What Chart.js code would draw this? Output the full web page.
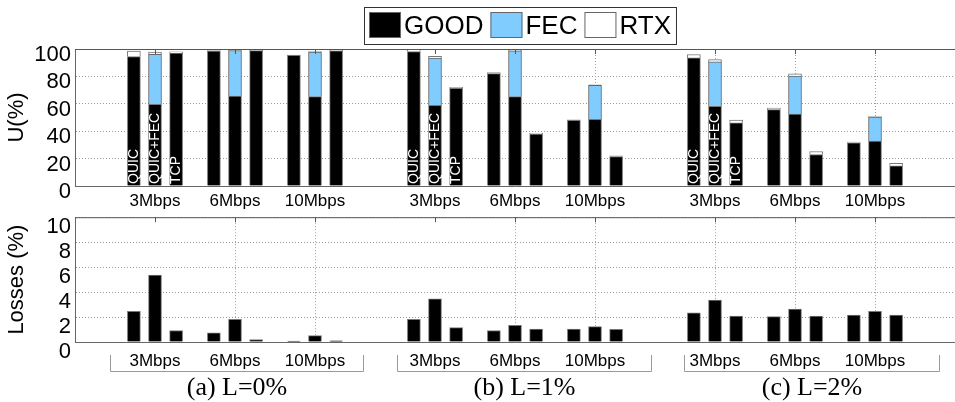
<!DOCTYPE html>
<html>
<head>
<meta charset="utf-8">
<script src="https://cdn.jsdelivr.net/npm/chart.js@4.4.1/dist/chart.umd.min.js"></script>
<style>
  html, body { margin: 0; padding: 0; background: #fff; }
  #wrap { position: relative; width: 955px; height: 402px; overflow: hidden; }
  #uCanvas { position: absolute; left: 0; top: 0; }
  #lossCanvas { position: absolute; left: 0; top: 200px; }
</style>
</head>
<body>
<div id="wrap">
  <canvas id="uCanvas" width="955" height="212"></canvas>
  <canvas id="lossCanvas" width="955" height="202"></canvas>
</div>
<script>
// ---------- DATA ----------
const panels = ['(a) L=0%', '(b) L=1%', '(c) L=2%'];
const rates = ['3Mbps', '6Mbps', '10Mbps'];
const protocols = ['QUIC', 'QUIC+FEC', 'TCP'];
const layers = ['GOOD', 'FEC', 'RTX'];

// link utilisation U(%) - order: (a) 3,6,10 | (b) 3,6,10 | (c) 3,6,10
const goodQuic    = [94.5, 98.5, 95.4, 98.2, 82.0, 48.0, 93.5, 55.7, 31.5];
const goodQuicFec = [59.6, 65.7, 65.2, 58.9, 65.2, 48.6, 58.1, 52.5, 32.7];
const goodTcp     = [97.0, 98.8, 98.7, 71.3, 37.9, 21.5, 46.2, 23.0, 14.7];
const fecQuicFec  = [36.6, 33.2, 32.5, 34.4, 33.5, 24.9, 32.5, 27.8, 17.6];
const rtxQuic     = [4.0, 0.3, 0.2, 1.5, 0.8, 0.3, 2.5, 1.2, 0.5];
const rtxQuicFec  = [1.5, 0.5, 0.4, 1.4, 0.3, 0.3, 1.7, 1.5, 0.3];
const rtxTcp      = [1.0, 0.3, 0.3, 0.8, 0.6, 0.6, 1.9, 2.2, 1.9];

// losses (%)
const lossQuic    = [2.46, 0.74, 0.08, 1.82, 0.92, 1.03, 2.33, 2.03, 2.15];
const lossQuicFec = [5.36, 1.82, 0.51, 3.46, 1.33, 1.23, 3.36, 2.64, 2.46];
const lossTcp     = [0.92, 0.20, 0.10, 1.15, 1.03, 1.02, 2.08, 2.08, 2.15];

// ---------- STYLE ----------
const SANS = '"Liberation Sans", Arial, Helvetica, sans-serif';
const SERIF = '"Liberation Serif", "Times New Roman", serif';
const layerColors = ['#000000', '#80ccff', '#ffffff'];
const GRID = '#9a9a9a';
const AXIS = '#666666';

Chart.defaults.font.family = SANS;
Chart.defaults.color = '#000';

// x position (axis units) of panel g, rate r; bars of one rate sit side by side
const slot = (g, r) => 1 + g * 3.5 + r;
const shift = [-0.264, 0, 0.264];
const tickPos = [];
panels.forEach((p, g) => rates.forEach((r, i) => tickPos.push(slot(g, i))));
const hiddenGrid = [0, 3]; // no dotted line at (a) and (b) 3Mbps in the original

const pts = (values, p) => values.map((v, i) => ({ x: slot(Math.floor(i / 3), i % 3) + shift[p], y: v }));

// ---------- PLUGINS ----------
const frame = {
  id: 'frame',
  afterDraw(chart) {
    const { ctx, chartArea: a, scales: { x } } = chart;
    ctx.save();
    ctx.strokeStyle = '#555';
    ctx.lineWidth = 1;
    ctx.beginPath();
    ctx.moveTo(a.left, a.top + 0.5);
    ctx.lineTo(a.right, a.top + 0.5);
    tickPos.forEach(v => {
      const px = Math.round(x.getPixelForValue(v)) + 0.5;
      ctx.moveTo(px, a.top);
      ctx.lineTo(px, a.top + 5);
    });
    ctx.stroke();
    ctx.restore();
  }
};

const legendBox = {
  id: 'legendBox',
  afterDraw(chart) {
    const { ctx, chartArea: a } = chart;
    ctx.save();
    ctx.font = '26px ' + SANS;
    const sq = 32, gap = 3, sep = 7, pad = 5, top = 7, h = 37;
    const widths = layers.map(t => ctx.measureText(t).width);
    const total = pad * 2 + widths.reduce((s, w) => s + sq + gap + w, 0) + sep * (layers.length - 1);
    let x = Math.round((a.left + a.right) / 2 + 5 - total / 2);
    ctx.strokeStyle = '#333';
    ctx.lineWidth = 1;
    ctx.strokeRect(x + 0.5, top + 0.5, total, h);
    x += pad;
    layers.forEach((t, i) => {
      ctx.fillStyle = layerColors[i];
      ctx.fillRect(x, top + 5, sq, 26);
      ctx.strokeStyle = AXIS;
      ctx.strokeRect(x + 0.5, top + 5.5, sq - 1, 25);
      ctx.fillStyle = '#000';
      ctx.textAlign = 'left';
      ctx.textBaseline = 'middle';
      ctx.fillText(t, x + sq + gap, top + h / 2 + 1);
      x += sq + gap + widths[i] + sep;
    });
    ctx.restore();
  }
};

// protocol names written up inside the first (3Mbps) bars of each panel
const barNames = {
  id: 'barNames',
  afterDatasetsDraw(chart) {
    const { ctx, chartArea: a } = chart;
    const meta = chart.getDatasetMeta(0);
    ctx.save();
    ctx.font = '14px ' + SANS;
    ctx.fillStyle = '#fff';
    ctx.textAlign = 'left';
    ctx.textBaseline = 'middle';
    panels.forEach((pn, g) => {
      protocols.forEach((name, p) => {
        const el = meta.data[p * 9 + g * 3];
        ctx.save();
        ctx.translate(el.x + 0.5, a.bottom - 2);
        ctx.rotate(-Math.PI / 2);
        ctx.fillText(name, 0, 0);
        ctx.restore();
      });
    });
    ctx.restore();
  }
};

const brackets = {
  id: 'brackets',
  afterDraw(chart) {
    const { ctx, scales: { x } } = chart;
    ctx.save();
    panels.forEach((name, g) => {
      const xl = Math.round(x.getPixelForValue(slot(g, 0)) - 45 + 7 * g) + 0.5;
      const xr = Math.round(x.getPixelForValue(slot(g, 2)) + 48 + 8 * g) + 0.5;
      ctx.strokeStyle = '#999';
      ctx.lineWidth = 1;
      ctx.beginPath();
      ctx.moveTo(xl, 155);
      ctx.lineTo(xl, 171.5);
      ctx.lineTo(xr, 171.5);
      ctx.lineTo(xr, 155);
      ctx.stroke();
      ctx.fillStyle = '#000';
      ctx.font = '26px ' + SERIF;
      ctx.textAlign = 'center';
      ctx.textBaseline = 'middle';
      ctx.fillText(name, (xl + xr) / 2, 188);
    });
    ctx.restore();
  }
};

// ---------- SHARED AXIS BUILDERS ----------
function xAxis(height, pad) {
  return {
    type: 'linear', min: 0, max: 11, stacked: true, offset: false,
    afterBuildTicks: s => { s.ticks = tickPos.map(v => ({ value: v })); },
    afterFit: s => { s.height = height; },
    ticks: { autoSkip: false, maxRotation: 0, padding: pad, font: { size: 17 }, callback: (v, i) => rates[i % 3] },
    grid: { drawTicks: false, offset: false, color: c => hiddenGrid.includes(c.index) ? 'rgba(0,0,0,0)' : GRID },
    border: { color: AXIS, dash: [1, 2] }
  };
}

function yAxis(max, step, title, offset) {
  return {
    min: 0, max, stacked: true,
    afterFit: s => { s.width = 75; },
    ticks: { stepSize: step, autoSkip: false, padding: 4, labelOffset: offset, font: { size: 22 } },
    grid: { drawTicks: false, color: GRID },
    border: { color: AXIS, dash: [1, 2] },
    title: { display: true, text: title, font: { size: 22 }, padding: { top: 4, bottom: 0 } }
  };
}

const barStyle = { barThickness: 13, borderWidth: 1, borderColor: '#777' };

// ---------- UTILISATION ----------
new Chart(document.getElementById('uCanvas'), {
  type: 'bar',
  data: {
    datasets: [
      { label: 'GOOD', data: [...pts(goodQuic, 0), ...pts(goodQuicFec, 1), ...pts(goodTcp, 2)], backgroundColor: layerColors[0], ...barStyle },
      { label: 'FEC', data: pts(fecQuicFec, 1), backgroundColor: layerColors[1], ...barStyle, borderColor: '#666' },
      { label: 'RTX', data: [...pts(rtxQuic, 0), ...pts(rtxQuicFec, 1), ...pts(rtxTcp, 2)], backgroundColor: layerColors[2], ...barStyle }
    ]
  },
  options: {
    responsive: false,
    animation: false,
    layout: { padding: { top: 49, left: 0, right: 0, bottom: 0 } },
    plugins: { legend: { display: false }, tooltip: { enabled: false } },
    scales: { x: xAxis(26, 5), y: yAxis(100, 20, 'U(%)', 6) }
  },
  plugins: [frame, legendBox, barNames]
});

// ---------- LOSSES ----------
new Chart(document.getElementById('lossCanvas'), {
  type: 'bar',
  data: {
    datasets: [
      { label: 'Losses', data: [...pts(lossQuic, 0), ...pts(lossQuicFec, 1), ...pts(lossTcp, 2)], backgroundColor: '#000', ...barStyle }
    ]
  },
  options: {
    responsive: false,
    animation: false,
    layout: { padding: { top: 12, left: 0, right: 0, bottom: 0 } },
    plugins: { legend: { display: false }, tooltip: { enabled: false } },
    scales: { x: xAxis(60, 9), y: yAxis(10, 2, 'Losses (%)', 10) }
  },
  plugins: [frame, brackets]
});
</script>
</body>
</html>
